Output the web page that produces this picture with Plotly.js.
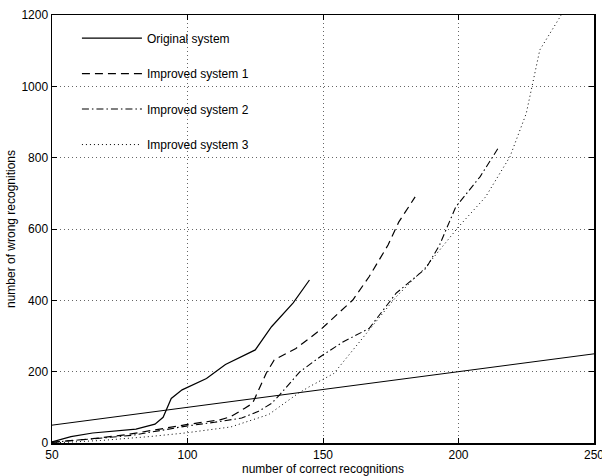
<!DOCTYPE html>
<html>
<head>
<meta charset="utf-8">
<script src="https://cdn.plot.ly/plotly-3.0.1.min.js"></script>
<style>html,body{margin:0;padding:0;background:#fff;}#chart{width:602px;height:476px;}</style>
</head>
<body>
<div id="chart"></div>
<script>
var refX = [50, 250];
var refY = [50, 250];

var origX = [50, 57, 65, 81, 88, 91, 94, 98, 107, 114, 125, 131, 139, 145];
var origY = [3, 18, 28, 39, 53, 72, 125, 149, 181, 220, 261, 326, 393, 457];

var imp1X = [50, 56, 65, 78, 90, 100, 112, 116, 121, 124, 129, 132, 140, 149, 153, 161, 167, 174, 178, 184];
var imp1Y = [2, 6, 12, 24, 40, 52, 65, 74, 97, 111, 195, 233, 265, 317, 345, 401, 466, 555, 620, 690];

var imp2X = [50, 58, 70, 80, 90, 100, 110, 120, 126, 131, 134, 141.5, 149, 157.5, 167, 177, 188, 193, 199, 208, 215];
var imp2Y = [2, 8, 15, 22, 35, 48, 58, 70, 88, 111, 135, 200, 242, 284, 321, 420, 490, 555, 662, 747, 831];

var imp3X = [50, 68, 86, 99, 116, 124, 130, 134, 141, 145, 154, 160, 167, 177, 188, 200, 210, 219, 225, 230, 237.5, 240];
var imp3Y = [0, 7, 18, 28, 45, 64, 80, 102, 140, 158, 195, 251, 317, 410, 494, 606, 690, 803, 924, 1102, 1195, 1230];

var names = ['Original system', 'Improved system 1', 'Improved system 2', 'Improved system 3'];
var xTicks = [50, 100, 150, 200, 250];
var yTicks = [0, 200, 400, 600, 800, 1000, 1200];

var traces = [
  {x: origX, y: origY, name: names[0], legendgroup: 'a', mode: 'lines', line: {color: '#000', width: 1.2}},
  {x: imp1X, y: imp1Y, name: names[1], legendgroup: 'b', mode: 'lines', line: {color: '#000', width: 1.2, dash: '8px,5px'}},
  {x: imp2X, y: imp2Y, name: names[2], legendgroup: 'c', mode: 'lines', line: {color: '#000', width: 1.1, dash: '7px,3px,1.5px,3px'}},
  {x: imp3X, y: imp3Y, name: names[3], legendgroup: 'd', mode: 'lines', line: {color: '#000', width: 1, dash: '1px,3px'}},
  {x: refX, y: refY, name: 'reference', showlegend: false, mode: 'lines', line: {color: '#000', width: 1}}
];

var font = {family: 'Liberation Sans, Arial, sans-serif', size: 12, color: '#000'};

var layout = {
  width: 602, height: 476,
  margin: {l: 52, r: 8, t: 15, b: 33},
  paper_bgcolor: '#fff', plot_bgcolor: '#fff',
  font: font,
  showlegend: true,
  legend: {x: 0.046, y: 0.98, xanchor: 'left', yanchor: 'top', bgcolor: 'rgba(0,0,0,0)',
           font: {family: font.family, size: 12, color: '#000'}, tracegroupgap: 16.5, itemwidth: 60},
  xaxis: {range: [50, 250], tickvals: xTicks, ticks: 'inside', ticklen: 5, tickcolor: '#000',
          showline: true, linecolor: '#000', linewidth: 1.5, mirror: 'ticks', ticklabeloverflow: 'allow',
          showgrid: true, gridcolor: '#666', griddash: '1px,3px', gridwidth: 1, zeroline: false,
          title: {text: 'number of correct recognitions', font: {size: 12}, standoff: 1},
          tickfont: {size: 12}},
  yaxis: {range: [0, 1200], tickvals: yTicks, ticks: 'inside', ticklen: 5, tickcolor: '#000',
          showline: true, linecolor: '#000', linewidth: 1.5, mirror: 'ticks', ticklabeloverflow: 'allow',
          showgrid: true, gridcolor: '#666', griddash: '1px,3px', gridwidth: 1, zeroline: false,
          title: {text: 'number of wrong recognitions', font: {size: 12}, standoff: 3},
          tickfont: {size: 12}}
};

Plotly.newPlot('chart', traces, layout, {staticPlot: true});
</script>
</body>
</html>
